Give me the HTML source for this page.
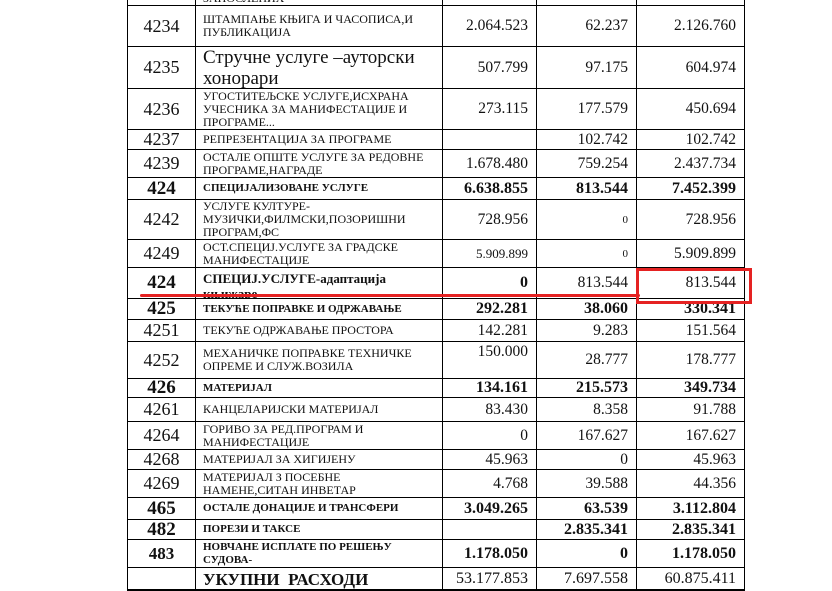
<!DOCTYPE html>
<html><head><meta charset="utf-8"><style>
html,body{margin:0;padding:0;background:#fff;width:832px;height:591px;overflow:hidden;position:relative;font-family:"Liberation Serif",serif;color:#111}
.r{position:absolute;left:127px;width:618px;display:flex;border-top:1.5px solid #000;box-sizing:border-box}
.r>div{box-sizing:border-box;border-right:1.5px solid #000;height:100%;display:flex;align-items:center;overflow:hidden}
.r>div:first-child{border-left:1.5px solid #000}
.c{width:69px;justify-content:center;font-size:18px}
.d{width:247px;padding-left:7px;font-size:12px;line-height:13px}
.n{justify-content:flex-end;padding-right:8px;font-size:15.5px}
.n1{width:94px}.n2{width:100px}.n3{width:108px}
.b .c{font-weight:bold;font-size:19px}
.b .d{font-weight:bold;font-size:11px}
.b .n{font-weight:bold;font-size:16px}
.bot{position:absolute;left:127px;top:589px;width:618px;height:2px;background:#000}
.red1{position:absolute;left:140px;top:294px;width:500px;height:3px;background:#e52222;border-radius:2px}
.red2{position:absolute;left:636px;top:268px;width:110px;height:30px;border:3px solid #e52222}
</style></head><body>
<div class="r" style="top:-15px;height:20px"><div class="c"></div><div class="d" style="align-items:flex-end">УСЛУГЕ ЗА ДОМАЋИНСТВО ЗАПОСЛЕНИХ</div><div class="n n1"></div><div class="n n2"></div><div class="n n3"></div></div>
<div class="r" style="top:5px;height:41px"><div class="c">4234</div><div class="d">ШТАМПАЊЕ КЊИГА И ЧАСОПИСА,И ПУБЛИКАЦИЈА</div><div class="n n1">2.064.523</div><div class="n n2">62.237</div><div class="n n3">2.126.760</div></div>
<div class="r" style="top:46px;height:42px"><div class="c">4235</div><div class="d" style="font-size:19px;line-height:21px">Стручне услуге –ауторски хонорари</div><div class="n n1">507.799</div><div class="n n2">97.175</div><div class="n n3">604.974</div></div>
<div class="r" style="top:88px;height:41px"><div class="c">4236</div><div class="d">УГОСТИТЕЉСКЕ УСЛУГЕ,ИСХРАНА УЧЕСНИКА ЗА МАНИФЕСТАЦИЈЕ И ПРОГРАМЕ...</div><div class="n n1">273.115</div><div class="n n2">177.579</div><div class="n n3">450.694</div></div>
<div class="r" style="top:129px;height:20px"><div class="c">4237</div><div class="d">РЕПРЕЗЕНТАЦИЈА ЗА ПРОГРАМЕ</div><div class="n n1"></div><div class="n n2">102.742</div><div class="n n3">102.742</div></div>
<div class="r" style="top:149px;height:28px"><div class="c">4239</div><div class="d">ОСТАЛЕ ОПШТЕ УСЛУГЕ ЗА РЕДОВНЕ ПРОГРАМЕ,НАГРАДЕ</div><div class="n n1">1.678.480</div><div class="n n2">759.254</div><div class="n n3">2.437.734</div></div>
<div class="r b" style="top:177px;height:22px"><div class="c">424</div><div class="d">СПЕЦИЈАЛИЗОВАНЕ УСЛУГЕ</div><div class="n n1">6.638.855</div><div class="n n2">813.544</div><div class="n n3">7.452.399</div></div>
<div class="r" style="top:199px;height:40px"><div class="c">4242</div><div class="d">УСЛУГЕ КУЛТУРЕ-<br>МУЗИЧКИ,ФИЛМСКИ,ПОЗОРИШНИ ПРОГРАМ,ФС</div><div class="n n1">728.956</div><div class="n n2" style="font-size:11px">0</div><div class="n n3">728.956</div></div>
<div class="r" style="top:239px;height:28px"><div class="c">4249</div><div class="d">ОСТ.СПЕЦИЈ.УСЛУГЕ ЗА ГРАДСКЕ МАНИФЕСТАЦИЈЕ</div><div class="n n1" style="font-size:13px">5.909.899</div><div class="n n2" style="font-size:11px">0</div><div class="n n3">5.909.899</div></div>
<div class="r" style="top:267px;height:31px"><div class="c" style="font-weight:bold;font-size:19px">424</div><div class="d" style="font-weight:bold;font-size:13px;line-height:15px;align-items:flex-start;padding-top:3px">СПЕЦИЈ.УСЛУГЕ-адаптација<br>књижаре</div><div class="n n1" style="font-weight:bold;font-size:16px">0</div><div class="n n2">813.544</div><div class="n n3">813.544</div></div>
<div class="r b" style="top:298px;height:21px"><div class="c">425</div><div class="d">ТЕКУЋЕ ПОПРАВКЕ И ОДРЖАВАЊЕ</div><div class="n n1">292.281</div><div class="n n2">38.060</div><div class="n n3">330.341</div></div>
<div class="r" style="top:319px;height:22px"><div class="c">4251</div><div class="d">ТЕКУЋЕ ОДРЖАВАЊЕ ПРОСТОРА</div><div class="n n1">142.281</div><div class="n n2">9.283</div><div class="n n3">151.564</div></div>
<div class="r" style="top:341px;height:37px"><div class="c">4252</div><div class="d">МЕХАНИЧКЕ ПОПРАВКЕ ТЕХНИЧКЕ ОПРЕМЕ И СЛУЖ.ВОЗИЛА</div><div class="n n1" style="align-items:flex-start;padding-top:1px">150.000</div><div class="n n2">28.777</div><div class="n n3">178.777</div></div>
<div class="r b" style="top:378px;height:19px"><div class="c">426</div><div class="d">МАТЕРИЈАЛ</div><div class="n n1">134.161</div><div class="n n2">215.573</div><div class="n n3">349.734</div></div>
<div class="r" style="top:397px;height:24px"><div class="c">4261</div><div class="d">КАНЦЕЛАРИЈСКИ МАТЕРИЈАЛ</div><div class="n n1">83.430</div><div class="n n2">8.358</div><div class="n n3">91.788</div></div>
<div class="r" style="top:421px;height:28px"><div class="c">4264</div><div class="d">ГОРИВО ЗА РЕД.ПРОГРАМ И<br>МАНИФЕСТАЦИЈЕ</div><div class="n n1">0</div><div class="n n2">167.627</div><div class="n n3">167.627</div></div>
<div class="r" style="top:449px;height:20px"><div class="c">4268</div><div class="d">МАТЕРИЈАЛ ЗА ХИГИЈЕНУ</div><div class="n n1">45.963</div><div class="n n2">0</div><div class="n n3">45.963</div></div>
<div class="r" style="top:469px;height:28px"><div class="c">4269</div><div class="d">МАТЕРИЈАЛ З ПОСЕБНЕ<br>НАМЕНЕ,СИТАН ИНВЕТАР</div><div class="n n1">4.768</div><div class="n n2">39.588</div><div class="n n3">44.356</div></div>
<div class="r b" style="top:497px;height:22px"><div class="c">465</div><div class="d">ОСТАЛЕ ДОНАЦИЈЕ И ТРАНСФЕРИ</div><div class="n n1">3.049.265</div><div class="n n2">63.539</div><div class="n n3">3.112.804</div></div>
<div class="r b" style="top:519px;height:20px"><div class="c">482</div><div class="d">ПОРЕЗИ И ТАКСЕ</div><div class="n n1"></div><div class="n n2">2.835.341</div><div class="n n3">2.835.341</div></div>
<div class="r b" style="top:539px;height:28px"><div class="c" style="font-size:17px">483</div><div class="d">НОВЧАНЕ ИСПЛАТЕ ПО РЕШЕЊУ<br>СУДОВА-</div><div class="n n1">1.178.050</div><div class="n n2">0</div><div class="n n3">1.178.050</div></div>
<div class="r" style="top:567px;height:23px"><div class="c"></div><div class="d" style="font-weight:bold;font-size:17px">УКУПНИ &nbsp;РАСХОДИ</div><div class="n n1" style="font-size:16px">53.177.853</div><div class="n n2" style="font-size:16px">7.697.558</div><div class="n n3" style="font-size:16px">60.875.411</div></div>
<div class="bot"></div>
<div class="red1"></div>
<div class="red2"></div>
</body></html>
